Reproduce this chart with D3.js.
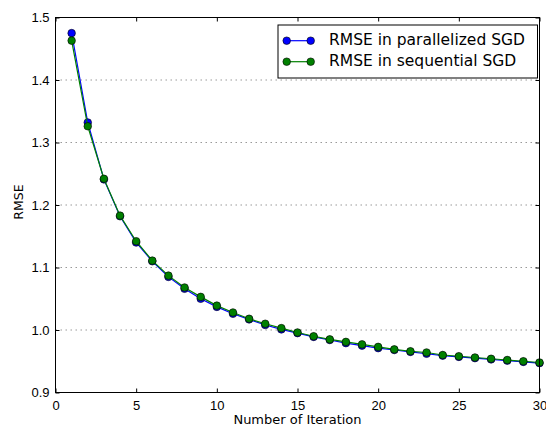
<!DOCTYPE html>
<html lang="en">
  <head>
    <meta charset="UTF-8" />
    <title>RMSE vs iteration</title>
    <style>
      body {
        margin: 0;
        background: #fff;
        font-family: "DejaVu Sans", sans-serif;
      }
      svg {
        display: block;
      }
      .tick text {
        font-size: 13px;
        fill: #000;
      }
      .grid line {
        stroke: #999;
        stroke-dasharray: 1.5, 3.5;
      }
    </style>
  </head>
  <body>
    <svg width="546" height="428"></svg>
    <script src="https://d3js.org/d3.v7.min.js"></script>
    <script>
      const iterations = d3.range(1, 31);
      const parallelRmse = [
        1.475, 1.332, 1.241, 1.182, 1.14, 1.11, 1.085, 1.066, 1.05, 1.037,
        1.026, 1.017, 1.008, 1.001, 0.995, 0.989, 0.984, 0.979, 0.975, 0.971,
        0.968, 0.965, 0.962, 0.959, 0.957, 0.955, 0.953, 0.951, 0.949, 0.947,
      ];
      const sequentialRmse = [
        1.463, 1.326, 1.242, 1.183, 1.142, 1.111, 1.087, 1.068, 1.053, 1.039,
        1.028, 1.018, 1.01, 1.003, 0.996, 0.99, 0.985, 0.981, 0.977, 0.973,
        0.969, 0.966, 0.964, 0.96, 0.958, 0.956, 0.954, 0.952, 0.95, 0.948,
      ];
      const xTicks = [0, 5, 10, 15, 20, 25, 30];
      const yTicks = [0.9, 1.0, 1.1, 1.2, 1.3, 1.4, 1.5];
      const seriesNames = ["RMSE in parallelized SGD", "RMSE in sequential SGD"];
      const seriesColors = ["#0000ff", "#008000"];

      const svg = d3.select("svg");
      const margin = { top: 17.5, right: 6.5, bottom: 35.5, left: 55.5 };
      const width = 546 - margin.left - margin.right,
        height = 428 - margin.top - margin.bottom;

      const g = svg
        .append("g")
        .attr("transform", `translate(${margin.left},${margin.top})`);

      const x = d3.scaleLinear().domain([0, 30]).range([0, width]);
      const y = d3.scaleLinear().domain([0.9, 1.5]).range([height, 0]);

      // horizontal dotted grid
      g.append("g")
        .attr("class", "grid")
        .selectAll("line")
        .data(yTicks.slice(1, -1))
        .join("line")
        .attr("x1", 0)
        .attr("x2", width)
        .attr("y1", (d) => y(d))
        .attr("y2", (d) => y(d));

      // axes with inward ticks
      const fmt = d3.format(".1f");
      g.append("g")
        .attr("transform", `translate(0,${height})`)
        .call(d3.axisBottom(x).tickValues(xTicks).tickSizeInner(-4).tickSizeOuter(0).tickPadding(8))
        .call((a) => a.select(".domain").remove());
      g.append("g")
        .call(d3.axisTop(x).tickValues(xTicks).tickSizeInner(-4).tickSizeOuter(0).tickFormat(""))
        .call((a) => a.select(".domain").remove());
      g.append("g")
        .call(d3.axisLeft(y).tickValues(yTicks).tickFormat(fmt).tickSizeInner(-4).tickSizeOuter(0).tickPadding(6))
        .call((a) => a.select(".domain").remove());
      g.append("g")
        .attr("transform", `translate(${width},0)`)
        .call(d3.axisRight(y).tickValues(yTicks).tickSizeInner(-4).tickSizeOuter(0).tickFormat(""))
        .call((a) => a.select(".domain").remove());

      const series = [parallelRmse, sequentialRmse];
      const line = d3
        .line()
        .x((d, i) => x(iterations[i]))
        .y((d) => y(d));

      series.forEach((vals, k) => {
        g.append("path")
          .datum(vals)
          .attr("fill", "none")
          .attr("stroke", seriesColors[k])
          .attr("stroke-width", 1.2)
          .attr("d", line);
        g.append("g")
          .selectAll("circle")
          .data(vals)
          .join("circle")
          .attr("cx", (d, i) => x(iterations[i]))
          .attr("cy", (d) => y(d))
          .attr("r", 3.8)
          .attr("fill", seriesColors[k])
          .attr("stroke", "#000")
          .attr("stroke-width", 0.6);
      });

      // frame
      g.append("rect")
        .attr("width", width)
        .attr("height", height)
        .attr("fill", "none")
        .attr("stroke", "#000")
        .attr("stroke-width", 1);

      // legend
      const legend = g.append("g").attr("transform", `translate(${278 - margin.left},${25 - margin.top})`);
      legend
        .append("rect")
        .attr("width", 259.5)
        .attr("height", 53)
        .attr("fill", "#fff")
        .attr("stroke", "#000")
        .attr("stroke-width", 1);
      seriesNames.forEach((name, k) => {
        const row = legend.append("g").attr("transform", `translate(0,${15.7 + k * 21})`);
        row.append("line")
          .attr("x1", 8.7).attr("x2", 32.7)
          .attr("stroke", seriesColors[k]).attr("stroke-width", 1.2);
        [8.7, 32.7].forEach((cx) =>
          row.append("circle")
            .attr("cx", cx).attr("r", 3.8)
            .attr("fill", seriesColors[k]).attr("stroke", "#000").attr("stroke-width", 0.6)
        );
        row.append("text")
          .attr("x", 51)
          .attr("y", 4)
          .attr("font-size", 15.5)
          .text(name);
      });

      // axis labels
      svg.append("text")
        .attr("x", margin.left + width / 2)
        .attr("y", 424)
        .attr("text-anchor", "middle")
        .attr("font-size", 13)
        .text("Number of Iteration");
      svg.append("text")
        .attr("transform", `translate(23,202) rotate(-90)`)
        .attr("text-anchor", "middle")
        .attr("font-size", 12.5)
        .text("RMSE");
    </script>
  </body>
</html>
